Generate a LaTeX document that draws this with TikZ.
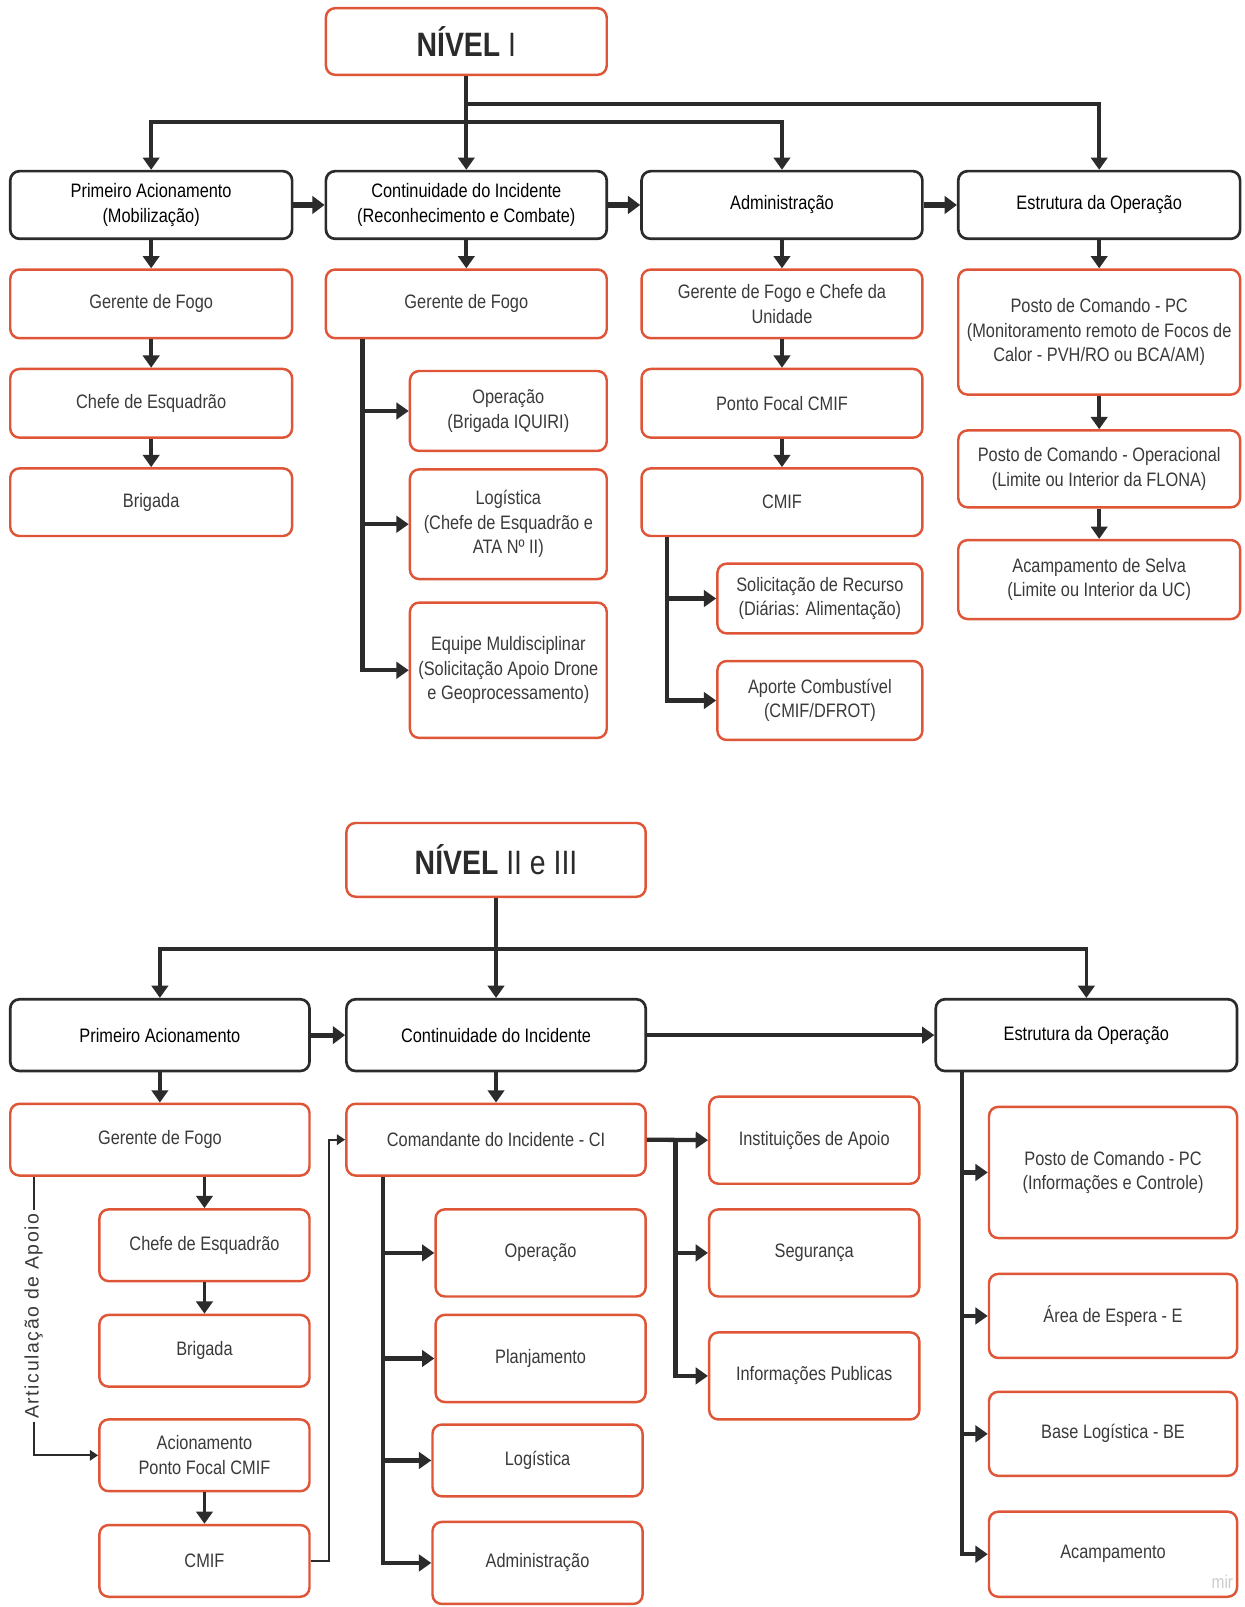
\documentclass[tikz,border=0pt]{standalone}
\usepackage{fontspec}
\setmainfont[FakeStretch=0.84]{Liberation Sans}
\newfontfamily\artfont[LetterSpace=8]{Liberation Sans}
\usetikzlibrary{arrows.meta,calc}
\definecolor{redb}{HTML}{DF5538}
\definecolor{darkl}{HTML}{2B2B2B}
\definecolor{txt}{HTML}{3A3A3A}
\begin{document}
\begin{tikzpicture}[x=1pt,y=-1pt,
 base/.style={rectangle, rounded corners=9pt, align=center, font=\fontsize{19}{24}\selectfont, inner sep=2pt, fill=white},
 rbox/.style={base, draw=redb, line width=2.4pt, text=txt},
 kbox/.style={base, draw=darkl, line width=2.6pt, text=black},
 con/.style={draw=darkl, line width=3.6pt, -{Triangle[length=12pt,width=16pt]}},
 bcon/.style={draw=darkl, line width=4.2pt, -{Triangle[length=12pt,width=16pt]}},
 hcon/.style={draw=darkl, line width=5pt, -{Triangle[length=12pt,width=17pt]}},
 tcon/.style={draw=darkl, line width=2pt, -{Triangle[length=8pt,width=10pt]}},
 title/.style={rbox, font=\fontsize{33}{38}\selectfont, text=darkl}
]
\useasboundingbox[fill=white] (0,0) rectangle (1214,1568);

% ===== NIVEL I =====
\node[title, minimum width=274pt, minimum height=65pt] (n1) at (455,40.5) {\textbf{NÍVEL} I};

\node[kbox, minimum width=275pt, minimum height=66pt] (p1) at (147.5,200) {Primeiro Acionamento\\(Mobilização)};
\node[kbox, minimum width=274pt, minimum height=66pt] (c1) at (455,200) {Continuidade do Incidente\\(Reconhecimento e Combate)};
\node[kbox, minimum width=274pt, minimum height=66pt] (a1) at (763,200) {Administração};
\node[kbox, minimum width=275pt, minimum height=66pt] (e1) at (1072.5,200) {Estrutura da Operação};

\draw[con] (n1.south) -- (c1.north);
\draw[con] (n1.south) -- ++(0,27) -| (e1.north);
\draw[con] (n1.south) -- ++(0,45) -| (p1.north);
\draw[con] (n1.south) -- ++(0,45) -| (a1.north);

\draw[hcon] (p1.east) -- (c1.west);
\draw[hcon] (c1.east) -- (a1.west);
\draw[hcon] (a1.east) -- (e1.west);

% column 1
\node[rbox, minimum width=275pt, minimum height=67pt] (g1) at (147.5,296.5) {Gerente de Fogo};
\node[rbox, minimum width=275pt, minimum height=67pt] (ch1) at (147.5,393.5) {Chefe de Esquadrão};
\node[rbox, minimum width=275pt, minimum height=66pt] (b1) at (147.5,490) {Brigada};
\draw[con] (p1.south) -- (g1.north);
\draw[con] (g1.south) -- (ch1.north);
\draw[con] (ch1.south) -- (b1.north);

% column 2
\node[rbox, minimum width=274pt, minimum height=67pt] (g2) at (455,296.5) {Gerente de Fogo};
\node[rbox, minimum width=192pt, minimum height=78pt] (op2) at (496,401) {Operação\\(Brigada IQUIRI)};
\node[rbox, minimum width=192pt, minimum height=107pt] (lo2) at (496,511.5) {Logística\\(Chefe de Esquadrão e\\ATA Nº II)};
\node[rbox, minimum width=192pt, minimum height=132pt] (eq2) at (496,654) {Equipe Muldisciplinar\\(Solicitação Apoio Drone\\e Geoprocessamento)};
\draw[con] (c1.south) -- (g2.north);
\draw[bcon] ($(g2.south west)+(37,0)$) |- (op2.west);
\draw[bcon] ($(g2.south west)+(37,0)$) |- (lo2.west);
\draw[bcon] ($(g2.south west)+(37,0)$) |- (eq2.west);

% column 3
\node[rbox, minimum width=274pt, minimum height=67pt] (g3a) at (763,296.5) {Gerente de Fogo e Chefe da\\Unidade};
\node[rbox, minimum width=274pt, minimum height=67pt] (pf) at (763,393.5) {Ponto Focal CMIF};
\node[rbox, minimum width=274pt, minimum height=66pt] (cm) at (763,490) {CMIF};
\node[rbox, minimum width=200pt, minimum height=68pt] (so3) at (800,584) {Solicitação de Recurso\\(Diárias: Alimentação)};
\node[rbox, minimum width=200pt, minimum height=77pt] (ap3) at (800,683.5) {Aporte Combustível\\(CMIF/DFROT)};
\draw[con] (a1.south) -- (g3a.north);
\draw[con] (g3a.south) -- (pf.north);
\draw[con] (pf.south) -- (cm.north);
\draw[bcon] ($(cm.south west)+(26,0)$) |- (so3.west);
\draw[bcon] ($(cm.south west)+(26,0)$) |- (ap3.west);

% column 4
\node[rbox, minimum width=275pt, minimum height=122pt] (pc4) at (1072.5,324) {Posto de Comando - PC\\(Monitoramento remoto de Focos de\\Calor - PVH/RO ou BCA/AM)};
\node[rbox, minimum width=275pt, minimum height=75pt] (po4) at (1072.5,457.5) {Posto de Comando - Operacional\\(Limite ou Interior da FLONA)};
\node[rbox, minimum width=275pt, minimum height=77pt] (ac4) at (1072.5,565.5) {Acampamento de Selva\\(Limite ou Interior da UC)};
\draw[con] (e1.south) -- (pc4.north);
\draw[con] (pc4.south) -- (po4.north);
\draw[con] (po4.south) -- (ac4.north);

% ===== NIVEL II e III =====
\node[title, minimum width=292pt, minimum height=72pt] (n2) at (484,839) {\textbf{NÍVEL} II e III};

\node[kbox, minimum width=292pt, minimum height=70pt] (p2) at (156,1010) {Primeiro Acionamento};
\node[kbox, minimum width=292pt, minimum height=70pt] (c2) at (484,1010) {Continuidade do Incidente};
\node[kbox, minimum width=294pt, minimum height=70pt] (e2) at (1060,1010) {Estrutura da Operação};

\draw[con] (n2.south) -- (c2.north);
\draw[con] (n2.south) -- ++(0,50) -| (p2.north);
\draw[con] (n2.south) -- ++(0,50) -| (e2.north);
\draw[hcon] (p2.east) -- (c2.west);
\draw[bcon] (c2.east) -- (e2.west);

% left column
\node[rbox, minimum width=292pt, minimum height=70pt] (g5) at (156,1112) {Gerente de Fogo};
\node[rbox, minimum width=205pt, minimum height=70pt] (ch5) at (199.5,1215) {Chefe de Esquadrão};
\node[rbox, minimum width=205pt, minimum height=70pt] (br5) at (199.5,1318) {Brigada};
\node[rbox, minimum width=205pt, minimum height=70pt] (ac5) at (199.5,1420) {Acionamento\\Ponto Focal CMIF};
\node[rbox, minimum width=205pt, minimum height=70pt] (cm5) at (199.5,1523) {CMIF};
\node[rbox, minimum width=292pt, minimum height=70pt] (ci) at (484,1112) {Comandante do Incidente - CI};
\draw[con] (p2.south) -- (g5.north);
\draw[con] (ch5.north |- g5.south) -- (ch5.north);
\draw[con] (ch5.south) -- (br5.north);
\draw[con] (ac5.south) -- (cm5.north);
\draw[tcon] ($(g5.south west)+(24,0)$) |- (ac5.west)
  node[pos=0.25, sloped, fill=white, inner xsep=3pt, inner ysep=1pt, text=txt, font=\artfont\fontsize{19}{22}\selectfont, rotate=180] (art) {Articulação de Apoio};
\draw[tcon] (cm5.east) -- ++(18,0) |- (ci.west);

% middle
\node[rbox, minimum width=205pt, minimum height=85pt] (op5) at (527.5,1222.5) {Operação};
\node[rbox, minimum width=205pt, minimum height=85pt] (pl5) at (527.5,1325.5) {Planjamento};
\node[rbox, minimum width=205pt, minimum height=70pt] (lg5) at (524.5,1425) {Logística};
\node[rbox, minimum width=205pt, minimum height=80pt] (ad5) at (524.5,1525) {Administração};
\draw[con] (c2.south) -- (ci.north);
\draw[bcon] ($(ci.south west)+(37,0)$) |- (op5.west);
\draw[bcon] ($(ci.south west)+(37,0)$) |- (pl5.west);
\draw[bcon] ($(ci.south west)+(37,0)$) |- (lg5.west);
\draw[bcon] ($(ci.south west)+(37,0)$) |- (ad5.west);

\node[rbox, minimum width=205pt, minimum height=85pt] (in5) at (794.5,1112.5) {Instituições de Apoio};
\node[rbox, minimum width=205pt, minimum height=85pt] (sg5) at (794.5,1222.5) {Segurança};
\node[rbox, minimum width=205pt, minimum height=85pt] (ip5) at (794.5,1342.5) {Informações Publicas};
\draw[bcon] (ci.east) -- (in5.west);
\draw[bcon] ($(ci.east)+(28,0)$) |- (sg5.west);
\draw[bcon] ($(ci.east)+(28,0)$) |- (ip5.west);

% right
\node[rbox, minimum width=242pt, minimum height=128pt] (pc5) at (1086,1144) {Posto de Comando - PC\\(Informações e Controle)};
\node[rbox, minimum width=242pt, minimum height=82pt] (ae5) at (1086,1284) {Área de Espera - E};
\node[rbox, minimum width=242pt, minimum height=82pt] (bl5) at (1086,1399) {Base Logística - BE};
\node[rbox, minimum width=242pt, minimum height=83pt] (ap5) at (1086,1516.5) {Acampamento};
\draw[bcon] ($(e2.south west)+(27,0)$) |- (pc5.west);
\draw[bcon] ($(e2.south west)+(27,0)$) |- (ae5.west);
\draw[bcon] ($(e2.south west)+(27,0)$) |- (bl5.west);
\draw[bcon] ($(e2.south west)+(27,0)$) |- (ap5.west);

\node[text=black!20, font=\fontsize{18}{20}\selectfont, anchor=west, inner sep=0pt] (wm) at (1182,1543) {mir};
\end{tikzpicture}
\end{document}
